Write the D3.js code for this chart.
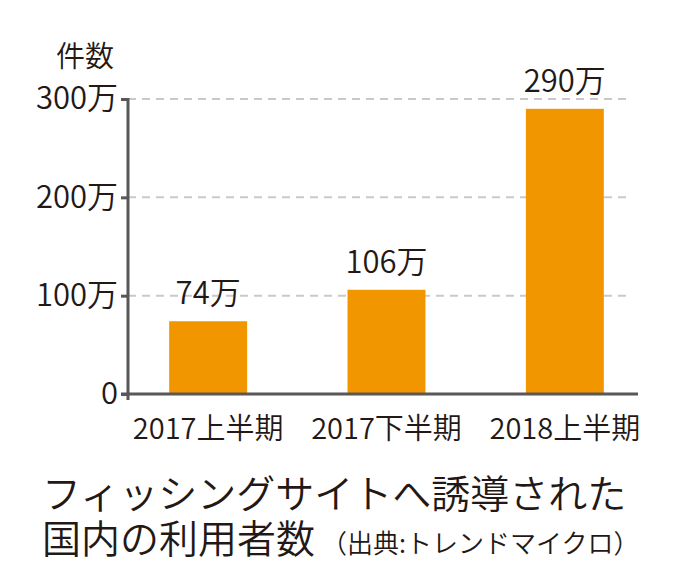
<!DOCTYPE html>
<html>
<head>
<meta charset="utf-8">
<script src="https://cdn.jsdelivr.net/npm/d3@7"></script>
<style>
  body { margin: 0; background: #fff; }
  text { font-family: "Noto Sans CJK JP", sans-serif; font-weight: 350; fill: #231815; }
</style>
</head>
<body>
<div id="chart"></div>
<script>
// chart data
var periods = ["2017上半期", "2017下半期", "2018上半期"];
var users = [74, 106, 290];
var barLabels = ["74万", "106万", "290万"];
var yTicks = [0, 100, 200, 300];
var yTickLabels = ["0", "100万", "200万", "300万"];

var width = 689, height = 586;
var margin = {top: 99, left: 128};
var baseY = 394;

var svg = d3.select("#chart").append("svg")
    .attr("width", width)
    .attr("height", height);

// band scale tuned so bars sit at ~208, 386, 565 with width ~78
var x = d3.scaleBand()
    .domain(periods)
    .range([80, 693])
    .paddingInner(0.563)
    .paddingOuter(0.5);

var y = d3.scaleLinear()
    .domain([0, 300])
    .range([baseY, margin.top]);

// dashed grid lines
svg.selectAll(".grid")
    .data(yTicks.slice(1))
    .enter().append("line")
    .attr("class", "grid")
    .attr("x1", margin.left)
    .attr("x2", 630)
    .attr("y1", function(d) { return y(d); })
    .attr("y2", function(d) { return y(d); })
    .attr("stroke", "#c9c9c9")
    .attr("stroke-width", 2)
    .attr("stroke-dasharray", "8,6");

// bars
svg.selectAll(".bar")
    .data(users)
    .enter().append("rect")
    .attr("class", "bar")
    .attr("x", function(d, i) { return x(periods[i]); })
    .attr("width", x.bandwidth())
    .attr("y", function(d) { return y(d); })
    .attr("height", function(d) { return y(0) - y(d); })
    .attr("fill", "#f29600");

// value labels
svg.selectAll(".val")
    .data(users)
    .enter().append("text")
    .attr("class", "val")
    .attr("x", function(d, i) { return x(periods[i]) + x.bandwidth() / 2; })
    .attr("y", function(d) { return y(d) - 17; })
    .attr("text-anchor", "middle")
    .style("font-size", "31px")
    .text(function(d, i) { return barLabels[i]; });

// y axis
var yAxis = d3.axisLeft(y)
    .tickValues(yTicks)
    .tickSize(7)
    .tickPadding(3)
    .tickFormat(function(d, i) { return yTickLabels[i]; });

var gy = svg.append("g")
    .attr("transform", "translate(" + margin.left + ",0)")
    .call(yAxis);
gy.select(".domain").remove();
gy.selectAll(".tick line").attr("stroke", "#595757").attr("stroke-width", 3);
gy.selectAll(".tick text")
    .style("font-size", "31px")
    .attr("fill", "#231815");

svg.append("line")
    .attr("x1", margin.left).attr("x2", margin.left)
    .attr("y1", y(300) - 1).attr("y2", y(0) + 6)
    .attr("stroke", "#595757").attr("stroke-width", 3);

// x axis
svg.append("line")
    .attr("x1", margin.left - 7).attr("x2", 638)
    .attr("y1", y(0)).attr("y2", y(0))
    .attr("stroke", "#595757").attr("stroke-width", 3);

svg.selectAll(".xlab")
    .data(periods)
    .enter().append("text")
    .attr("class", "xlab")
    .attr("x", function(d) { return x(d) + x.bandwidth() / 2; })
    .attr("y", y(0) + 45)
    .attr("text-anchor", "middle")
    .style("font-size", "29px")
    .text(function(d) { return d; });

// unit label
svg.append("text")
    .attr("x", 85)
    .attr("y", 67)
    .attr("text-anchor", "middle")
    .style("font-size", "29px")
    .text("件数");

// caption
svg.append("text")
    .attr("x", 42)
    .attr("y", 508)
    .style("font-size", "39px")
    .text("フィッシングサイトへ誘導された");

var cap2 = svg.append("text")
    .attr("x", 42)
    .attr("y", 553)
    .style("font-size", "39px");
cap2.append("tspan").text("国内の利用者数");
cap2.append("tspan").attr("dx", 6).style("font-size", "26px").text("（出典:トレンドマイクロ）");
</script>
</body>
</html>
